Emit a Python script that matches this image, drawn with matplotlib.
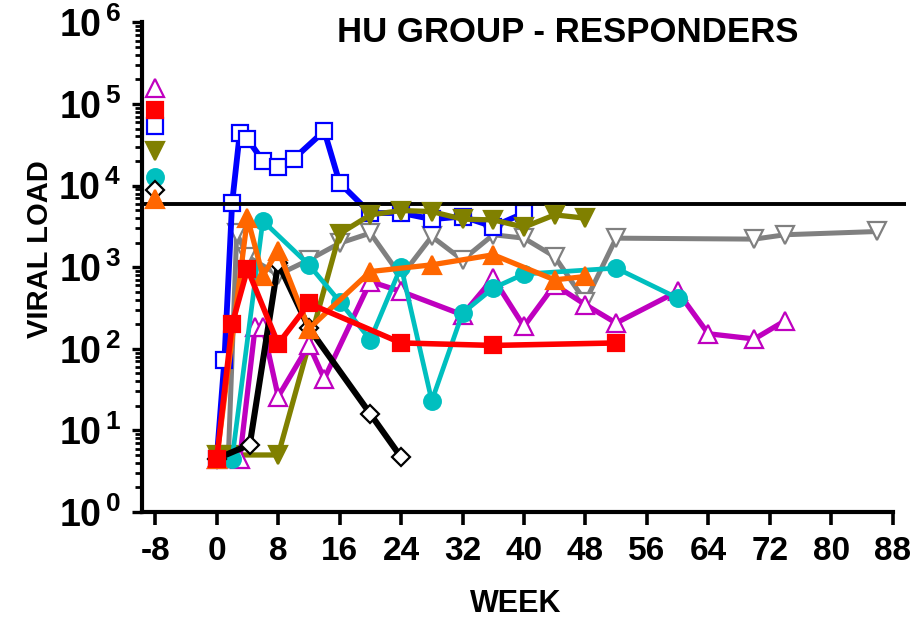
import numpy as np
import matplotlib
matplotlib.use('Agg')
import matplotlib.pyplot as plt
from matplotlib.ticker import FixedLocator, FixedFormatter, LogLocator, NullFormatter

plt.rcParams['font.family'] = 'Liberation Sans'
plt.rcParams['font.weight'] = 'bold'
plt.rcParams['mathtext.fontset'] = 'custom'
plt.rcParams['mathtext.rm'] = 'Liberation Sans:bold'
plt.rcParams['mathtext.bf'] = 'Liberation Sans:bold'
plt.rcParams['mathtext.default'] = 'rm'

# ---- patient data : week, viral load ----
wk_gray = [1.5, 2.6, 4, 8, 12, 16, 20, 24, 28, 32, 36, 40, 44, 48, 52, 70, 74, 86]
vl_gray = [4.5, 2620, 1350, 810, 1230, 1970, 2620, 770, 2380, 1230, 2500, 2270,
           1350, 380, 2270, 2210, 2500, 2740]

wk_blue = [0, 1, 2, 3, 4, 6, 8, 10, 14, 16, 20, 24, 28, 32, 36, 40]
vl_blue = [4.5, 73, 6100, 44000, 37000, 20300, 17100, 21200, 46800, 10800,
           4600, 4630, 3880, 4180, 3150, 4600]

wk_olive = [0, 2, 8, 16, 20, 24, 28, 32, 36, 40, 44, 48]
vl_olive = [5, 5, 5, 2570, 4380, 4950, 4810, 3880, 3800, 3100, 4380, 3990]

wk_magenta = [0, 3, 5, 6, 8, 12, 14, 20, 24, 32, 36, 40, 44, 48, 52, 60, 64, 70, 74]
vl_magenta = [4.5, 4.5, 185, 185, 26, 112, 43, 668, 505, 261, 736, 188, 610,
              347, 207, 505, 153, 132, 221]

wk_cyan = [2, 6, 12, 16, 20, 24, 28, 32, 36, 40, 52, 60]
vl_cyan = [4.5, 3700, 1070, 380, 129, 1020, 23, 274, 555, 825, 975, 419]

wk_black = [0, 4.3, 8, 12, 20, 24]
vl_black = [4.5, 6.7, 1120, 180, 15.9, 4.7]

wk_orange = [0, 4, 6, 8, 12, 20, 28, 36, 44, 48]
vl_orange = [4.5, 4000, 790, 1600, 176, 885, 1070, 1420, 700, 770]

wk_red = [0, 2, 4, 8, 12, 24, 36, 52]
vl_red = [4.5, 200, 950, 115, 360, 118, 110, 118]

# baseline (week -8) values
base_week = -8
base_vl = {'magenta': 157000, 'red': 84600, 'blue': 53100, 'olive': 26600,
           'cyan': 12600, 'black': 8950, 'orange': 6880}

threshold = 6000
xticks = list(range(-8, 89, 8))
yticks = [1, 10, 100, 1000, 10000, 100000, 1000000]
ytick_labels = [r'$10^{\,%d}$' % k for k in range(7)]

# ---- styles ----
C = {'gray': '#808080', 'blue': '#0000FF', 'olive': '#808000',
     'magenta': '#BF00BF', 'cyan': '#00BFBF', 'black': '#000000',
     'orange': '#FF6600', 'red': '#FF0000'}
style = {
    'gray':    dict(marker='v', ms=12.5, mfc='white', lw=3.6, z=3),
    'blue':    dict(marker='s', ms=12, mfc='white', lw=4.2, z=4),
    'olive':   dict(marker='v', ms=12.5, mfc=C['olive'], lw=3.8, z=6),
    'magenta': dict(marker='^', ms=12.5, mfc='white', lw=3.8, z=7),
    'cyan':    dict(marker='o', ms=12, mfc=C['cyan'], lw=3.4, z=8),
    'black':   dict(marker='D', ms=9.5, mfc='white', lw=4.4, z=9),
    'orange':  dict(marker='^', ms=12.5, mfc=C['orange'], lw=3.8, z=10),
    'red':     dict(marker='s', ms=12, mfc=C['red'], lw=4.0, z=11),
}
series = {'gray': (wk_gray, vl_gray), 'blue': (wk_blue, vl_blue),
          'olive': (wk_olive, vl_olive), 'magenta': (wk_magenta, vl_magenta),
          'cyan': (wk_cyan, vl_cyan), 'black': (wk_black, vl_black),
          'orange': (wk_orange, vl_orange), 'red': (wk_red, vl_red)}

fig = plt.figure(figsize=(9.18, 6.21), dpi=100)
ax = fig.add_axes([0.1547, 0.1755, 0.8327, 0.7884])

for name, (wk, vl) in series.items():
    s = style[name]
    ax.plot(wk, vl, color=C[name], lw=s['lw'], marker=s['marker'], ms=s['ms'],
            mfc=s['mfc'], mec=C[name], mew=1.6, zorder=s['z'], clip_on=False)

for name, v in base_vl.items():
    s = style[name]
    ax.plot([base_week], [v], ls='none', marker=s['marker'], ms=s['ms'],
            mfc=s['mfc'], mec=C[name], mew=1.6, zorder=s['z'], clip_on=False)

ax.axhline(threshold, color='black', lw=2.8, zorder=5)

ax.set_yscale('log')
ax.set_ylim(1, 1e6)
ax.set_xlim(-9.73, 89.8)

ax.yaxis.set_major_locator(FixedLocator(yticks))
ax.yaxis.set_major_formatter(FixedFormatter(ytick_labels))
ax.yaxis.set_minor_locator(LogLocator(base=10, subs=np.arange(2, 10), numticks=20))
ax.yaxis.set_minor_formatter(NullFormatter())
ax.set_xticks(xticks)
ax.set_xticklabels([str(t) for t in xticks])

ax.tick_params(axis='y', which='major', length=7, width=2.4, pad=8, labelsize=27)
ax.tick_params(axis='y', which='minor', length=5, width=2.0)
ax.tick_params(axis='x', length=9, width=2.6, pad=8, labelsize=24)

for side in ('top', 'right'):
    ax.spines[side].set_visible(False)
ax.spines['left'].set_linewidth(3)
ax.spines['bottom'].set_linewidth(3)
ax.spines['bottom'].set_bounds(-9.73, 88)

fig.text(568 / 918, 1 - 33 / 621, 'HU GROUP - RESPONDERS', fontsize=25,
         fontweight='bold', ha='center', va='center')
fig.text(40 / 918, 1 - 249 / 621, 'VIRAL LOAD', fontsize=21,
         fontweight='bold', rotation=90, ha='center', va='center')
fig.text(516 / 918, 1 - 604 / 621, 'WEEK', fontsize=22,
         fontweight='bold', ha='center', va='center')

fig.savefig('out.png', dpi=100)
